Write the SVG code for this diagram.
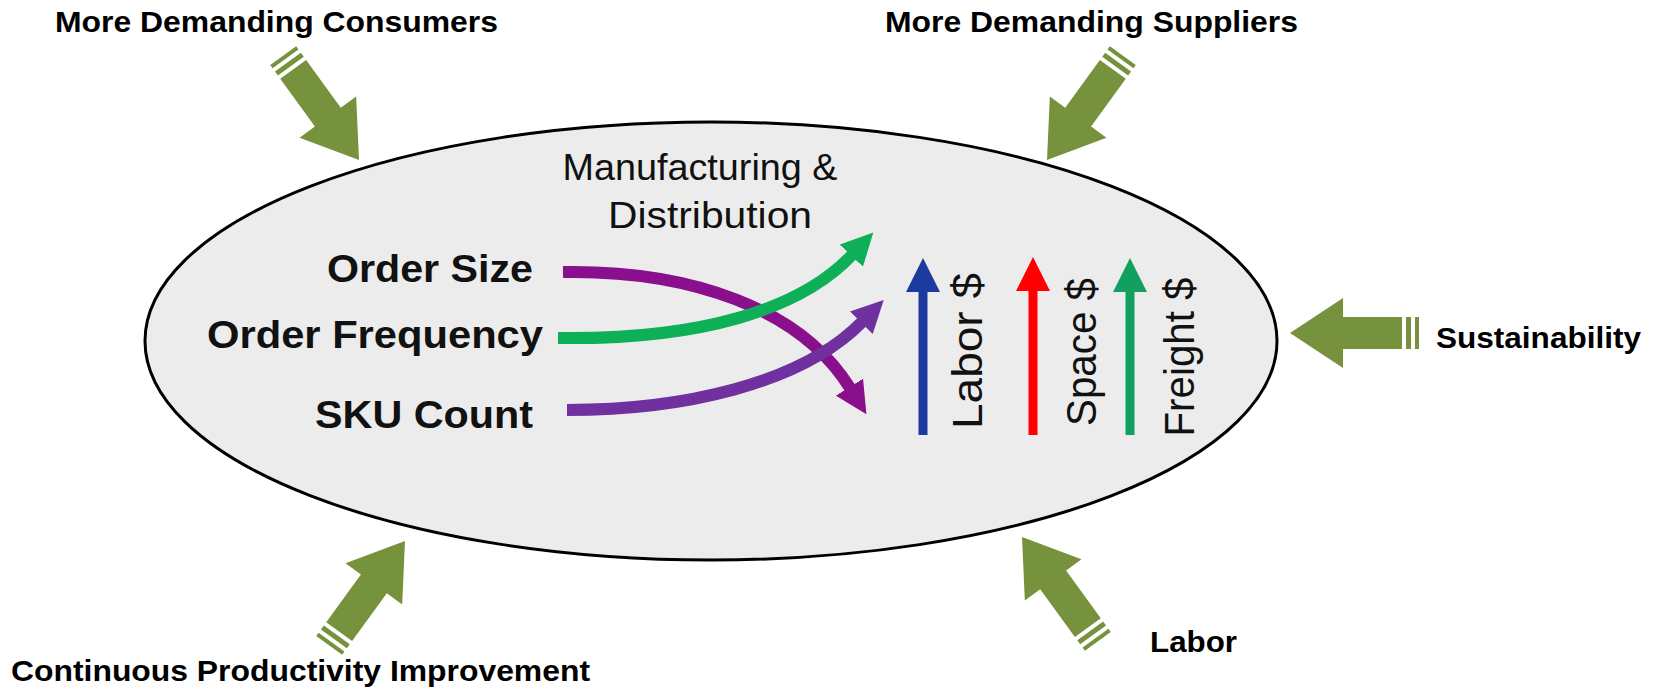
<svg xmlns="http://www.w3.org/2000/svg" width="1656" height="693" viewBox="0 0 1656 693">
<style>
.lbl{font-family:"Liberation Sans",Arial,sans-serif;font-weight:bold;font-size:30px;fill:#000}
.in{font-family:"Liberation Sans",Arial,sans-serif;font-weight:bold;font-size:38px;fill:#111}
.reg{font-family:"Liberation Sans",Arial,sans-serif;font-size:36px;fill:#111}
.vt{font-family:"Liberation Sans",Arial,sans-serif;font-size:42px;fill:#111}
.force{fill:#76923C}
.curve{fill:none;stroke-width:12}
.vert{fill:none;stroke-width:9}
</style>
<defs>
<g id="bigArrow">
<path d="M0,0 L-53,-35 L-53,-16 L-112,-16 L-112,16 L-53,16 L-53,35 Z"/>
<rect x="-121" y="-16" width="5" height="32"/>
<rect x="-129" y="-16" width="4" height="32"/>
</g>
<marker id="hPurple" markerUnits="userSpaceOnUse" markerWidth="32" markerHeight="32" viewBox="0 0 32 32" refX="1" refY="16" orient="auto"><path d="M0,0 L32,16 L0,32 Z" fill="#8A0F8C"/></marker>
<marker id="hGreen" markerUnits="userSpaceOnUse" markerWidth="32" markerHeight="32" viewBox="0 0 32 32" refX="1" refY="16" orient="auto"><path d="M0,0 L32,16 L0,32 Z" fill="#0DB056"/></marker>
<marker id="hViolet" markerUnits="userSpaceOnUse" markerWidth="32" markerHeight="32" viewBox="0 0 32 32" refX="1" refY="16" orient="auto"><path d="M0,0 L32,16 L0,32 Z" fill="#7030A0"/></marker>
<marker id="hBlue" markerUnits="userSpaceOnUse" markerWidth="34" markerHeight="34" viewBox="0 0 34 34" refX="1" refY="17" orient="auto"><path d="M0,0 L34,17 L0,34 Z" fill="#1C3A9E"/></marker>
<marker id="hRed" markerUnits="userSpaceOnUse" markerWidth="34" markerHeight="34" viewBox="0 0 34 34" refX="1" refY="17" orient="auto"><path d="M0,0 L34,17 L0,34 Z" fill="#FF0000"/></marker>
<marker id="hFreight" markerUnits="userSpaceOnUse" markerWidth="34" markerHeight="34" viewBox="0 0 34 34" refX="1" refY="17" orient="auto"><path d="M0,0 L34,17 L0,34 Z" fill="#12A060"/></marker>
</defs>
<rect width="1656" height="693" fill="#fff"/>

<g id="node-ellipse">
<ellipse cx="711" cy="341" rx="566" ry="219" fill="#ECECEC" stroke="#000" stroke-width="3"/>
<text class="reg" x="700" y="180" text-anchor="middle" textLength="275" lengthAdjust="spacingAndGlyphs">Manufacturing &amp;</text>
<text class="reg" x="608" y="228" textLength="204" lengthAdjust="spacingAndGlyphs">Distribution</text>
</g>

<g id="node-order-size"><text class="in" x="327" y="282" textLength="206" lengthAdjust="spacingAndGlyphs">Order Size</text></g>
<g id="node-order-frequency"><text class="in" x="207" y="348" textLength="336" lengthAdjust="spacingAndGlyphs">Order Frequency</text></g>
<g id="node-sku-count"><text class="in" x="315" y="428" textLength="218" lengthAdjust="spacingAndGlyphs">SKU Count</text></g>

<g id="node-labor-cost"><text class="vt" transform="translate(982,351) rotate(-90)" text-anchor="middle" textLength="156" lengthAdjust="spacingAndGlyphs">Labor $</text></g>
<g id="node-space-cost"><text class="vt" transform="translate(1096,352) rotate(-90)" text-anchor="middle" textLength="148" lengthAdjust="spacingAndGlyphs">Space $</text></g>
<g id="node-freight-cost"><text class="vt" transform="translate(1194,357) rotate(-90)" text-anchor="middle" textLength="159" lengthAdjust="spacingAndGlyphs">Freight $</text></g>

<g id="connectors">
<path class="curve" d="M563,272 C690,270 800,308 850,388" stroke="#8A0F8C" marker-end="url(#hPurple)"/>
<path class="curve" d="M558,338 C700,340 800,310 852,255" stroke="#0DB056" marker-end="url(#hGreen)"/>
<path class="curve" d="M567,410 C680,410 800,385 862,322" stroke="#7030A0" marker-end="url(#hViolet)"/>
<path class="vert" d="M923,435 L923,291" stroke="#1C3A9E" marker-end="url(#hBlue)"/>
<path class="vert" d="M1033,435 L1033,290" stroke="#FF0000" marker-end="url(#hRed)"/>
<path class="vert" d="M1130,435 L1130,291" stroke="#12A060" marker-end="url(#hFreight)"/>
</g>

<g id="node-consumers">
<use href="#bigArrow" class="force" transform="translate(359,160) rotate(54)"/>
<text class="lbl" x="55" y="32" textLength="443" lengthAdjust="spacingAndGlyphs">More Demanding Consumers</text>
</g>
<g id="node-suppliers">
<use href="#bigArrow" class="force" transform="translate(1047,160) rotate(126)"/>
<text class="lbl" x="885" y="32" textLength="413" lengthAdjust="spacingAndGlyphs">More Demanding Suppliers</text>
</g>
<g id="node-sustainability">
<use href="#bigArrow" class="force" transform="translate(1290,333) rotate(180)"/>
<text class="lbl" x="1436" y="348" textLength="205" lengthAdjust="spacingAndGlyphs">Sustainability</text>
</g>
<g id="node-labor">
<use href="#bigArrow" class="force" transform="translate(1022,537) rotate(234)"/>
<text class="lbl" x="1150" y="652" textLength="87" lengthAdjust="spacingAndGlyphs">Labor</text>
</g>
<g id="node-productivity">
<use href="#bigArrow" class="force" transform="translate(405,541) rotate(-54)"/>
<text class="lbl" x="11" y="681" textLength="579" lengthAdjust="spacingAndGlyphs">Continuous Productivity Improvement</text>
</g>
</svg>
